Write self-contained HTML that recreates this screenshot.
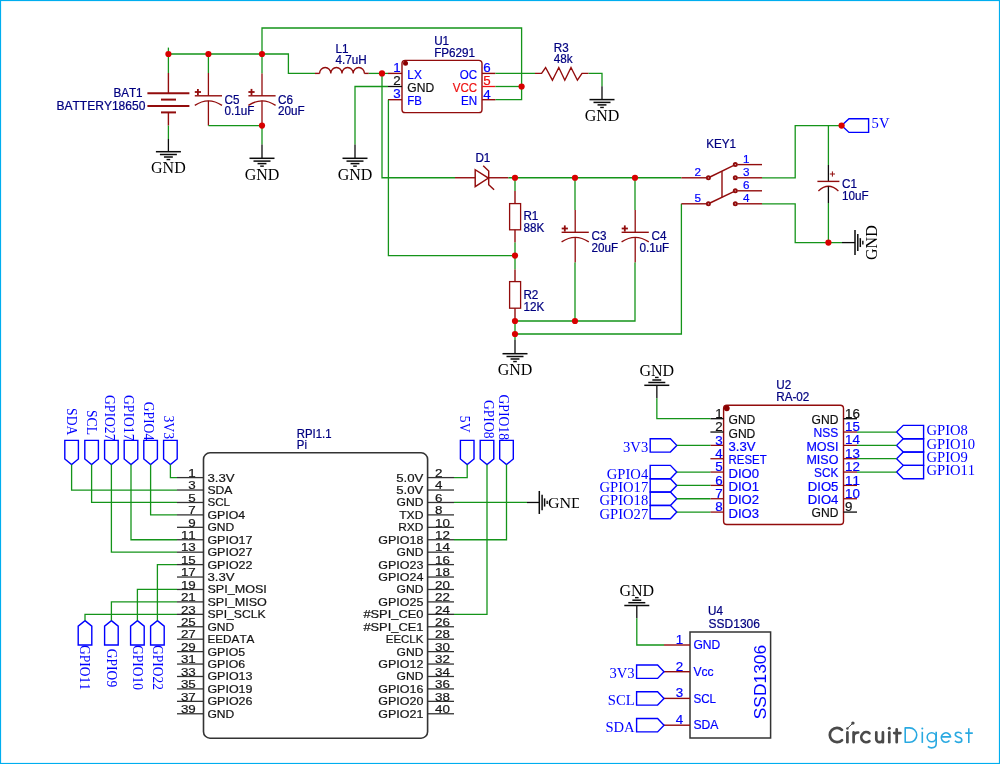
<!DOCTYPE html>
<html><head><meta charset="utf-8"><title>Circuit</title>
<style>
html,body{margin:0;padding:0;background:#fff;}
svg{display:block;will-change:transform;}
text{font-family:"Liberation Sans",sans-serif;font-kerning:none;}
.n,.n2,.n3{stroke:#000080;stroke-width:0.22px;}
.p,.pa{stroke:#0000ff;stroke-width:0.2px;}
.pk{stroke:#111;stroke-width:0.2px;}
.pr{stroke:#ee1111;stroke-width:0.2px;}
.r{stroke:#141414;stroke-width:0.2px;}
.n{font-size:11.7px;fill:#000080;}
.n2{font-size:11.4px;fill:#000080;}
.n3{font-size:12px;fill:#000080;}
.pa{font-size:11.7px;fill:#0000ff;}
.p{font-size:11.9px;fill:#0000ff;}
.pk{font-size:11.9px;fill:#111;}
.pr{font-size:11.9px;fill:#ee1111;}
.r{font-size:11.1px;fill:#141414;}
.big{font-size:17.4px;fill:#0000ff;}
.g{font-family:"Liberation Serif",serif;font-size:16px;fill:#000;}
.g2{font-family:"Liberation Serif",serif;font-size:15.2px;fill:#000;}
.f{font-family:"Liberation Serif",serif;font-size:14.6px;fill:#0000ff;}
.fv{font-family:"Liberation Serif",serif;font-size:14.6px;fill:#0000ff;}
.fv2{font-family:"Liberation Serif",serif;font-size:14.6px;fill:#0000ff;}
</style></head>
<body>
<svg width="1000" height="764" viewBox="0 0 1000 764" fill="none">
<g>
<polyline points="168.4,47.6 168.4,73" stroke="#14941a" stroke-width="1.3" />
<polyline points="168.4,73 168.4,93.2" stroke="#920c0c" stroke-width="1.4" />
<polyline points="147.4,93.2 189.4,93.2" stroke="#920c0c" stroke-width="2" />
<polyline points="161,99.6 176,99.6" stroke="#920c0c" stroke-width="2" />
<polyline points="147.4,106 189.4,106" stroke="#920c0c" stroke-width="2" />
<polyline points="161,112.4 176,112.4" stroke="#920c0c" stroke-width="2" />
<polyline points="168.4,112.4 168.4,125.6" stroke="#920c0c" stroke-width="1.4" />
<polyline points="168.4,125.6 168.4,139" stroke="#14941a" stroke-width="1.3" />
<polyline points="168.4,139 168.4,151.7" stroke="#0a0a0a" stroke-width="1.3" />
<polyline points="155.9,151.7 180.9,151.7" stroke="#0a0a0a" stroke-width="1.5" />
<polyline points="159.9,154.5 176.9,154.5" stroke="#0a0a0a" stroke-width="1.5" />
<polyline points="163.95,157 172.85,157" stroke="#0a0a0a" stroke-width="1.5" />
<polyline points="166.6,159.55 170.2,159.55" stroke="#0a0a0a" stroke-width="1.4" />
<text x="168.4" y="173.1" class="g" text-anchor="middle" >GND</text>
<text x="113.4" y="96.6" class="n" transform="translate(0 -7.73) scale(1 1.08)" >BAT1</text>
<text x="56.4" y="109.6" class="n" textLength="89" lengthAdjust="spacingAndGlyphs" transform="translate(0 -8.77) scale(1 1.08)" >BATTERY18650</text>
<polyline points="168.4,54 288.4,54 288.4,73.4 315,73.4" stroke="#14941a" stroke-width="1.3" />
<polyline points="262,54 262,28 521.6,28 521.6,99.7 495.4,99.7" stroke="#14941a" stroke-width="1.3" />
<polyline points="208.4,54 208.4,73" stroke="#14941a" stroke-width="1.3" />
<polyline points="208.4,73 208.4,95.8" stroke="#920c0c" stroke-width="1.3" />
<polyline points="194.8,95.8 222,95.8" stroke="#920c0c" stroke-width="1.4" />
<path d="M194.8,105.4 Q208.4,96.2 222,105.4" stroke="#920c0c" stroke-width="1.3" fill="none"/>
<polyline points="208.4,100.8 208.4,125.6" stroke="#920c0c" stroke-width="1.3" />
<polyline points="194.8,92 201,92" stroke="#920c0c" stroke-width="1.8" />
<polyline points="197.9,88.9 197.9,95.1" stroke="#920c0c" stroke-width="1.8" />
<polyline points="208.4,125.6 262,125.6" stroke="#14941a" stroke-width="1.3" />
<text x="224.6" y="103.6" class="n" transform="translate(0 -8.29) scale(1 1.08)" >C5</text>
<text x="224.6" y="115.4" class="n" transform="translate(0 -9.23) scale(1 1.08)" >0.1uF</text>
<polyline points="262,54 262,73.4" stroke="#14941a" stroke-width="1.3" />
<polyline points="262,73.4 262,95.8" stroke="#920c0c" stroke-width="1.3" />
<polyline points="248.4,95.8 275.6,95.8" stroke="#920c0c" stroke-width="1.4" />
<path d="M248.4,105.4 Q262,96.2 275.6,105.4" stroke="#920c0c" stroke-width="1.3" fill="none"/>
<polyline points="262,100.8 262,125.6" stroke="#920c0c" stroke-width="1.3" />
<polyline points="248.4,92 254.6,92" stroke="#920c0c" stroke-width="1.8" />
<polyline points="251.5,88.9 251.5,95.1" stroke="#920c0c" stroke-width="1.8" />
<polyline points="262,125.6 262,144.6" stroke="#14941a" stroke-width="1.3" />
<polyline points="262,144.6 262,158.3" stroke="#0a0a0a" stroke-width="1.3" />
<polyline points="249.5,158.3 274.5,158.3" stroke="#0a0a0a" stroke-width="1.5" />
<polyline points="253.5,161.1 270.5,161.1" stroke="#0a0a0a" stroke-width="1.5" />
<polyline points="257.55,163.6 266.45,163.6" stroke="#0a0a0a" stroke-width="1.5" />
<polyline points="260.2,166.15 263.8,166.15" stroke="#0a0a0a" stroke-width="1.4" />
<text x="262" y="179.7" class="g" text-anchor="middle" >GND</text>
<text x="278" y="103.6" class="n" transform="translate(0 -8.29) scale(1 1.08)" >C6</text>
<text x="278" y="115.4" class="n" transform="translate(0 -9.23) scale(1 1.08)" >20uF</text>
<polyline points="315,73.4 319.6,73.4" stroke="#920c0c" stroke-width="1.4" />
<path d="M319.6,73.4 a5.6,5.9 0 0 1 11.2,0 a5.6,5.9 0 0 1 11.2,0 a5.6,5.9 0 0 1 11.2,0 a5.6,5.9 0 0 1 11.2,0" stroke="#920c0c" stroke-width="1.3" fill="none"/>
<polyline points="364.4,73.4 368.8,73.4" stroke="#920c0c" stroke-width="1.4" />
<polyline points="368.8,73.4 388,73.4" stroke="#14941a" stroke-width="1.3" />
<text x="335.6" y="52.65" class="n" transform="translate(0 -4.21) scale(1 1.08)" >L1</text>
<text x="335.6" y="64.25" class="n" transform="translate(0 -5.14) scale(1 1.08)" >4.7uH</text>
<rect x="402" y="60.4" width="80" height="52.2" rx="3.2" stroke="#920c0c" stroke-width="1.4"/>
<circle cx="405.5" cy="63.2" r="2.5" fill="#8b0000" stroke="none"/>
<polyline points="388,73.4 402,73.4" stroke="#920c0c" stroke-width="1.4" />
<polyline points="388,86.5 402,86.5" stroke="#0a0a0a" stroke-width="1.3" />
<polyline points="388,99.7 402,99.7" stroke="#920c0c" stroke-width="1.4" />
<polyline points="482,73.4 495.4,73.4" stroke="#920c0c" stroke-width="1.4" />
<polyline points="482,86.5 495.4,86.5" stroke="#ee1111" stroke-width="1.3" />
<polyline points="482,99.7 495.4,99.7" stroke="#920c0c" stroke-width="1.4" />
<text x="400.6" y="72.1" class="p" text-anchor="end" textLength="7.44" lengthAdjust="spacingAndGlyphs" >1</text>
<text x="400.6" y="85.2" class="pk" text-anchor="end" textLength="7.44" lengthAdjust="spacingAndGlyphs" >2</text>
<text x="400.6" y="98.4" class="p" text-anchor="end" textLength="7.44" lengthAdjust="spacingAndGlyphs" >3</text>
<text x="483.2" y="72.3" class="p" textLength="7.44" lengthAdjust="spacingAndGlyphs" >6</text>
<text x="483.2" y="85.4" class="pr" textLength="7.44" lengthAdjust="spacingAndGlyphs" >5</text>
<text x="483.2" y="98.6" class="p" textLength="7.44" lengthAdjust="spacingAndGlyphs" >4</text>
<text x="407.3" y="78.6" class="p" textLength="14.53" lengthAdjust="spacingAndGlyphs" >LX</text>
<text x="407.3" y="91.7" class="pk" textLength="26.84" lengthAdjust="spacingAndGlyphs" >GND</text>
<text x="407.3" y="104.9" class="p" textLength="14.75" lengthAdjust="spacingAndGlyphs" >FB</text>
<text x="477.1" y="78.6" class="p" text-anchor="end" textLength="17.37" lengthAdjust="spacingAndGlyphs" >OC</text>
<text x="477.1" y="91.7" class="pr" text-anchor="end" textLength="24.34" lengthAdjust="spacingAndGlyphs" >VCC</text>
<text x="477.1" y="104.9" class="p" text-anchor="end" textLength="16.15" lengthAdjust="spacingAndGlyphs" >EN</text>
<text x="434.2" y="44.7" class="n" transform="translate(0 -3.58) scale(1 1.08)" >U1</text>
<text x="434.2" y="56.7" class="n" transform="translate(0 -4.54) scale(1 1.08)" >FP6291</text>
<polyline points="388,86.5 355,86.5 355,144.6" stroke="#14941a" stroke-width="1.3" />
<polyline points="355,144.6 355,158.3" stroke="#0a0a0a" stroke-width="1.3" />
<polyline points="342.5,158.3 367.5,158.3" stroke="#0a0a0a" stroke-width="1.5" />
<polyline points="346.5,161.1 363.5,161.1" stroke="#0a0a0a" stroke-width="1.5" />
<polyline points="350.55,163.6 359.45,163.6" stroke="#0a0a0a" stroke-width="1.5" />
<polyline points="353.2,166.15 356.8,166.15" stroke="#0a0a0a" stroke-width="1.4" />
<text x="355" y="179.7" class="g" text-anchor="middle" >GND</text>
<polyline points="388.4,99.7 388.4,255.6 515,255.6" stroke="#14941a" stroke-width="1.3" />
<polyline points="382,73.4 382,177.75 455,177.75" stroke="#14941a" stroke-width="1.3" />
<polyline points="495.4,73.4 535,73.4" stroke="#14941a" stroke-width="1.3" />
<polyline points="495.4,86.5 521.6,86.5" stroke="#14941a" stroke-width="1.3" />
<polyline points="535,73.4 541.6,73.4 545.6,67.5 552.4,80.2 558.8,67.5 564.8,80.2 571,67.5 577.4,80.2 582,73.4 588.6,73.4" stroke="#920c0c" stroke-width="1.4" />
<polyline points="588.6,73.4 602,73.4 602,86.3" stroke="#14941a" stroke-width="1.3" />
<polyline points="602,86.3 602,99.6" stroke="#0a0a0a" stroke-width="1.3" />
<polyline points="589.5,99.6 614.5,99.6" stroke="#0a0a0a" stroke-width="1.5" />
<polyline points="593.5,102.4 610.5,102.4" stroke="#0a0a0a" stroke-width="1.5" />
<polyline points="597.55,104.9 606.45,104.9" stroke="#0a0a0a" stroke-width="1.5" />
<polyline points="600.2,107.45 603.8,107.45" stroke="#0a0a0a" stroke-width="1.4" />
<text x="602" y="121" class="g" text-anchor="middle" >GND</text>
<text x="553.8" y="51.85" class="n" transform="translate(0 -4.15) scale(1 1.08)" >R3</text>
<text x="553.8" y="63.45" class="n" transform="translate(0 -5.08) scale(1 1.08)" >48k</text>
<polyline points="455,177.75 475.2,177.75" stroke="#920c0c" stroke-width="1.4" />
<polyline points="488.7,177.75 508.4,177.75" stroke="#920c0c" stroke-width="1.4" />
<path d="M475.2,169.7 L475.2,186.7 L488.4,178.1 Z" stroke="#920c0c" stroke-width="1.45" fill="none"/>
<path d="M483.2,165.8 L488.7,171 L488.7,184.7 L494.1,189.8" stroke="#920c0c" stroke-width="1.45" fill="none"/>
<polyline points="508.4,177.75 681.4,177.75" stroke="#14941a" stroke-width="1.3" />
<text x="475.4" y="162.45" class="n" transform="translate(0 -13) scale(1 1.08)" >D1</text>
<polyline points="515,177.6 515,191" stroke="#14941a" stroke-width="1.3" />
<polyline points="515,191 515,203.6" stroke="#920c0c" stroke-width="1.4" />
<rect x="509.6" y="203.6" width="11" height="26.2" stroke="#920c0c" stroke-width="1.3"/>
<polyline points="515,229.8 515,242.4" stroke="#920c0c" stroke-width="1.4" />
<polyline points="515,242.4 515,269.4" stroke="#14941a" stroke-width="1.3" />
<polyline points="515,269.4 515,281.6" stroke="#920c0c" stroke-width="1.4" />
<rect x="509.6" y="281.6" width="11" height="26.6" stroke="#920c0c" stroke-width="1.3"/>
<polyline points="515,308.2 515,321" stroke="#920c0c" stroke-width="1.4" />
<polyline points="515,321 515,340" stroke="#14941a" stroke-width="1.3" />
<polyline points="515,340 515,353.7" stroke="#0a0a0a" stroke-width="1.3" />
<polyline points="502.5,353.7 527.5,353.7" stroke="#0a0a0a" stroke-width="1.5" />
<polyline points="506.5,356.5 523.5,356.5" stroke="#0a0a0a" stroke-width="1.5" />
<polyline points="510.55,359 519.45,359" stroke="#0a0a0a" stroke-width="1.5" />
<polyline points="513.2,361.55 516.8,361.55" stroke="#0a0a0a" stroke-width="1.4" />
<text x="515" y="375.1" class="g" text-anchor="middle" >GND</text>
<text x="523.4" y="220.45" class="n" transform="translate(0 -17.64) scale(1 1.08)" >R1</text>
<text x="523.4" y="232.45" class="n" transform="translate(0 -18.6) scale(1 1.08)" >88K</text>
<text x="523.4" y="299.05" class="n" transform="translate(0 -23.92) scale(1 1.08)" >R2</text>
<text x="523.4" y="310.85" class="n" transform="translate(0 -24.87) scale(1 1.08)" >12K</text>
<polyline points="575,177.6 575,210" stroke="#14941a" stroke-width="1.3" />
<polyline points="575.2,210 575.2,232.3" stroke="#920c0c" stroke-width="1.3" />
<polyline points="561.6,232.3 588.8,232.3" stroke="#920c0c" stroke-width="1.4" />
<path d="M561.6,241.9 Q575.2,232.7 588.8,241.9" stroke="#920c0c" stroke-width="1.3" fill="none"/>
<polyline points="575.2,237.3 575.2,262.4" stroke="#920c0c" stroke-width="1.3" />
<polyline points="561.7,228.5 567.9,228.5" stroke="#920c0c" stroke-width="1.8" />
<polyline points="564.8,225.4 564.8,231.6" stroke="#920c0c" stroke-width="1.8" />
<polyline points="575,262.4 575,321" stroke="#14941a" stroke-width="1.3" />
<text x="591.6" y="240.25" class="n" transform="translate(0 -19.22) scale(1 1.08)" >C3</text>
<text x="591.6" y="252.05" class="n" transform="translate(0 -20.16) scale(1 1.08)" >20uF</text>
<polyline points="635,177.6 635,210" stroke="#14941a" stroke-width="1.3" />
<polyline points="635.2,210 635.2,232.3" stroke="#920c0c" stroke-width="1.3" />
<polyline points="621.6,232.3 648.8,232.3" stroke="#920c0c" stroke-width="1.4" />
<path d="M621.6,241.9 Q635.2,232.7 648.8,241.9" stroke="#920c0c" stroke-width="1.3" fill="none"/>
<polyline points="635.2,237.3 635.2,262.4" stroke="#920c0c" stroke-width="1.3" />
<polyline points="621.7,228.5 627.9,228.5" stroke="#920c0c" stroke-width="1.8" />
<polyline points="624.8,225.4 624.8,231.6" stroke="#920c0c" stroke-width="1.8" />
<polyline points="635,262.4 635,321 515,321" stroke="#14941a" stroke-width="1.3" />
<text x="651.6" y="240.25" class="n" transform="translate(0 -19.22) scale(1 1.08)" >C4</text>
<text x="639.4" y="252.05" class="n" transform="translate(0 -20.16) scale(1 1.08)" >0.1uF</text>
<polyline points="515,334 681.4,334 681.4,203.8" stroke="#14941a" stroke-width="1.3" />
<polyline points="681.4,177.8 706.4,177.8" stroke="#920c0c" stroke-width="1.4" />
<polyline points="681.4,203.8 706.4,203.8" stroke="#920c0c" stroke-width="1.4" />
<polyline points="737.3,164.6 762,164.6" stroke="#920c0c" stroke-width="1.4" />
<circle cx="735.3" cy="164.6" r="1.55" stroke="#920c0c" stroke-width="1.9" fill="#e9c9c9"/>
<polyline points="737.3,177.8 762,177.8" stroke="#920c0c" stroke-width="1.4" />
<circle cx="735.3" cy="177.8" r="1.55" stroke="#920c0c" stroke-width="1.9" fill="#e9c9c9"/>
<polyline points="737.3,190.8 762,190.8" stroke="#920c0c" stroke-width="1.4" />
<circle cx="735.3" cy="190.8" r="1.55" stroke="#920c0c" stroke-width="1.9" fill="#e9c9c9"/>
<polyline points="737.3,203.8 762,203.8" stroke="#920c0c" stroke-width="1.4" />
<circle cx="735.3" cy="203.8" r="1.55" stroke="#920c0c" stroke-width="1.9" fill="#e9c9c9"/>
<circle cx="708.4" cy="177.8" r="1.55" stroke="#920c0c" stroke-width="1.9" fill="#e9c9c9"/>
<circle cx="708.4" cy="203.8" r="1.55" stroke="#920c0c" stroke-width="1.9" fill="#e9c9c9"/>
<polyline points="710,177 733.8,165.4" stroke="#920c0c" stroke-width="1.4" />
<polyline points="710,203 733.8,191.6" stroke="#920c0c" stroke-width="1.4" />
<polyline points="722,171.2 722,197.2" stroke="#920c0c" stroke-width="1.4" />
<text x="706.2" y="147.85" class="n" transform="translate(0 -11.83) scale(1 1.08)" >KEY1</text>
<text x="742.9" y="162.7" class="pa" >1</text>
<text x="742.9" y="175.7" class="pa" >3</text>
<text x="742.9" y="188.7" class="pa" >6</text>
<text x="742.9" y="201.7" class="pa" >4</text>
<text x="694.6" y="176.4" class="pa" >2</text>
<text x="694.6" y="202.4" class="pa" >5</text>
<polyline points="762,177.8 795.2,177.8 795.2,125.6 841.6,125.6" stroke="#14941a" stroke-width="1.3" />
<polyline points="762,203.8 795.2,203.8 795.2,242.6 842,242.6" stroke="#14941a" stroke-width="1.3" />
<polyline points="842,242.6 855,242.6" stroke="#0a0a0a" stroke-width="1.3" />
<polyline points="855,230.1 855,255.1" stroke="#0a0a0a" stroke-width="1.5" />
<polyline points="857.8,234.1 857.8,251.1" stroke="#0a0a0a" stroke-width="1.5" />
<polyline points="860.3,238.15 860.3,247.05" stroke="#0a0a0a" stroke-width="1.5" />
<polyline points="862.85,240.8 862.85,244.4" stroke="#0a0a0a" stroke-width="1.4" />
<text x="877" y="242.6" class="g" text-anchor="middle" transform="rotate(-90 877 242.6)" >GND</text>
<polyline points="828.4,125.6 828.4,165" stroke="#14941a" stroke-width="1.3" />
<polyline points="828.4,165 828.4,181.4" stroke="#0a0a0a" stroke-width="1.3" />
<polyline points="817.4,181.4 839.4,181.4" stroke="#920c0c" stroke-width="1.4" />
<path d="M818.4,191 Q828.4,181.6 838.4,191" stroke="#920c0c" stroke-width="1.3" fill="none"/>
<polyline points="828.4,186.4 828.4,203" stroke="#0a0a0a" stroke-width="1.3" />
<polyline points="828.4,203 828.4,242.6" stroke="#14941a" stroke-width="1.3" />
<polyline points="829.8,174 835,174" stroke="#920c0c" stroke-width="1" />
<polyline points="832.4,171.4 832.4,176.6" stroke="#920c0c" stroke-width="1" />
<text x="842" y="188.45" class="n" transform="translate(0 -15.08) scale(1 1.08)" >C1</text>
<text x="842" y="199.85" class="n" transform="translate(0 -15.99) scale(1 1.08)" >10uF</text>
<polygon points="841.6,125.6 849,118.8 868.6,118.8 868.6,132.4 849,132.4" stroke="#0000ff" stroke-width="1.4" stroke-linejoin="miter"/>
<text x="871.6" y="128.2" class="f" >5V</text>
<circle cx="168.4" cy="54" r="3.1" fill="#d80000" stroke="none"/>
<circle cx="208.4" cy="54" r="3.1" fill="#d80000" stroke="none"/>
<circle cx="262" cy="54" r="3.1" fill="#d80000" stroke="none"/>
<circle cx="262" cy="125.6" r="3.1" fill="#d80000" stroke="none"/>
<circle cx="382" cy="73.4" r="3.1" fill="#d80000" stroke="none"/>
<circle cx="521.6" cy="86.5" r="3.1" fill="#d80000" stroke="none"/>
<circle cx="515" cy="177.75" r="3.1" fill="#d80000" stroke="none"/>
<circle cx="575" cy="177.75" r="3.1" fill="#d80000" stroke="none"/>
<circle cx="635" cy="177.75" r="3.1" fill="#d80000" stroke="none"/>
<circle cx="515" cy="255.6" r="3.1" fill="#d80000" stroke="none"/>
<circle cx="515" cy="321" r="3.1" fill="#d80000" stroke="none"/>
<circle cx="575" cy="321" r="3.1" fill="#d80000" stroke="none"/>
<circle cx="515" cy="334" r="3.1" fill="#d80000" stroke="none"/>
<circle cx="841.6" cy="125.6" r="3.1" fill="#d80000" stroke="none"/>
<circle cx="828.4" cy="242.6" r="3.1" fill="#d80000" stroke="none"/>
<rect x="203.5" y="452.8" width="224.1" height="285.4" rx="6.5" stroke="#333" stroke-width="1.6"/>
<polyline points="177,477.6 203.5,477.6" stroke="#333" stroke-width="1.3" />
<polyline points="427.6,477.6 454,477.6" stroke="#333" stroke-width="1.3" />
<text x="188.36" y="476.8" class="r" textLength="7.44" lengthAdjust="spacingAndGlyphs" >1</text>
<text x="435" y="476.8" class="r" textLength="7.44" lengthAdjust="spacingAndGlyphs" >2</text>
<text x="207.4" y="481.6" class="r" textLength="27.14" lengthAdjust="spacingAndGlyphs" >3.3V</text>
<text x="396.26" y="481.6" class="r" textLength="27.14" lengthAdjust="spacingAndGlyphs" >5.0V</text>
<polyline points="177,490.03 203.5,490.03" stroke="#333" stroke-width="1.3" />
<polyline points="427.6,490.03 454,490.03" stroke="#333" stroke-width="1.3" />
<text x="188.36" y="489.23" class="r" textLength="7.44" lengthAdjust="spacingAndGlyphs" >3</text>
<text x="435" y="489.23" class="r" textLength="7.44" lengthAdjust="spacingAndGlyphs" >4</text>
<text x="207.4" y="494.03" class="r" textLength="25.03" lengthAdjust="spacingAndGlyphs" >SDA</text>
<text x="396.26" y="494.03" class="r" textLength="27.14" lengthAdjust="spacingAndGlyphs" >5.0V</text>
<polyline points="177,502.46 203.5,502.46" stroke="#333" stroke-width="1.3" />
<polyline points="427.6,502.46 454,502.46" stroke="#333" stroke-width="1.3" />
<text x="188.36" y="501.66" class="r" textLength="7.44" lengthAdjust="spacingAndGlyphs" >5</text>
<text x="435" y="501.66" class="r" textLength="7.44" lengthAdjust="spacingAndGlyphs" >6</text>
<text x="207.4" y="506.46" class="r" textLength="22.69" lengthAdjust="spacingAndGlyphs" >SCL</text>
<text x="396.56" y="506.46" class="r" textLength="26.84" lengthAdjust="spacingAndGlyphs" >GND</text>
<polyline points="177,514.89 203.5,514.89" stroke="#333" stroke-width="1.3" />
<polyline points="427.6,514.89 454,514.89" stroke="#333" stroke-width="1.3" />
<text x="188.36" y="514.09" class="r" textLength="7.44" lengthAdjust="spacingAndGlyphs" >7</text>
<text x="435" y="514.09" class="r" textLength="7.44" lengthAdjust="spacingAndGlyphs" >8</text>
<text x="207.4" y="518.89" class="r" textLength="37.7" lengthAdjust="spacingAndGlyphs" >GPIO4</text>
<text x="399.16" y="518.89" class="r" textLength="24.24" lengthAdjust="spacingAndGlyphs" >TXD</text>
<polyline points="177,527.32 203.5,527.32" stroke="#333" stroke-width="1.3" />
<polyline points="427.6,527.32 454,527.32" stroke="#333" stroke-width="1.3" />
<text x="188.36" y="526.52" class="r" textLength="7.44" lengthAdjust="spacingAndGlyphs" >9</text>
<text x="435" y="526.52" class="r" textLength="14.88" lengthAdjust="spacingAndGlyphs" >10</text>
<text x="207.4" y="531.32" class="r" textLength="26.84" lengthAdjust="spacingAndGlyphs" >GND</text>
<text x="398.23" y="531.32" class="r" textLength="25.17" lengthAdjust="spacingAndGlyphs" >RXD</text>
<polyline points="177,539.75 203.5,539.75" stroke="#333" stroke-width="1.3" />
<polyline points="427.6,539.75 454,539.75" stroke="#333" stroke-width="1.3" />
<text x="180.92" y="538.95" class="r" textLength="14.88" lengthAdjust="spacingAndGlyphs" >11</text>
<text x="435" y="538.95" class="r" textLength="14.88" lengthAdjust="spacingAndGlyphs" >12</text>
<text x="207.4" y="543.75" class="r" textLength="45.14" lengthAdjust="spacingAndGlyphs" >GPIO17</text>
<text x="378.26" y="543.75" class="r" textLength="45.14" lengthAdjust="spacingAndGlyphs" >GPIO18</text>
<polyline points="177,552.18 203.5,552.18" stroke="#333" stroke-width="1.3" />
<polyline points="427.6,552.18 454,552.18" stroke="#333" stroke-width="1.3" />
<text x="180.92" y="551.38" class="r" textLength="14.88" lengthAdjust="spacingAndGlyphs" >13</text>
<text x="435" y="551.38" class="r" textLength="14.88" lengthAdjust="spacingAndGlyphs" >14</text>
<text x="207.4" y="556.18" class="r" textLength="45.14" lengthAdjust="spacingAndGlyphs" >GPIO27</text>
<text x="396.56" y="556.18" class="r" textLength="26.84" lengthAdjust="spacingAndGlyphs" >GND</text>
<polyline points="177,564.61 203.5,564.61" stroke="#333" stroke-width="1.3" />
<polyline points="427.6,564.61 454,564.61" stroke="#333" stroke-width="1.3" />
<text x="180.92" y="563.81" class="r" textLength="14.88" lengthAdjust="spacingAndGlyphs" >15</text>
<text x="435" y="563.81" class="r" textLength="14.88" lengthAdjust="spacingAndGlyphs" >16</text>
<text x="207.4" y="568.61" class="r" textLength="45.14" lengthAdjust="spacingAndGlyphs" >GPIO22</text>
<text x="378.26" y="568.61" class="r" textLength="45.14" lengthAdjust="spacingAndGlyphs" >GPIO23</text>
<polyline points="177,577.04 203.5,577.04" stroke="#333" stroke-width="1.3" />
<polyline points="427.6,577.04 454,577.04" stroke="#333" stroke-width="1.3" />
<text x="180.92" y="576.24" class="r" textLength="14.88" lengthAdjust="spacingAndGlyphs" >17</text>
<text x="435" y="576.24" class="r" textLength="14.88" lengthAdjust="spacingAndGlyphs" >18</text>
<text x="207.4" y="581.04" class="r" textLength="27.14" lengthAdjust="spacingAndGlyphs" >3.3V</text>
<text x="378.26" y="581.04" class="r" textLength="45.14" lengthAdjust="spacingAndGlyphs" >GPIO24</text>
<polyline points="177,589.47 203.5,589.47" stroke="#333" stroke-width="1.3" />
<polyline points="427.6,589.47 454,589.47" stroke="#333" stroke-width="1.3" />
<text x="180.92" y="588.67" class="r" textLength="14.88" lengthAdjust="spacingAndGlyphs" >19</text>
<text x="435" y="588.67" class="r" textLength="14.88" lengthAdjust="spacingAndGlyphs" >20</text>
<text x="207.4" y="593.47" class="r" textLength="59.42" lengthAdjust="spacingAndGlyphs" >SPI_MOSI</text>
<text x="396.56" y="593.47" class="r" textLength="26.84" lengthAdjust="spacingAndGlyphs" >GND</text>
<polyline points="177,601.9 203.5,601.9" stroke="#333" stroke-width="1.3" />
<polyline points="427.6,601.9 454,601.9" stroke="#333" stroke-width="1.3" />
<text x="180.92" y="601.1" class="r" textLength="14.88" lengthAdjust="spacingAndGlyphs" >21</text>
<text x="435" y="601.1" class="r" textLength="14.88" lengthAdjust="spacingAndGlyphs" >22</text>
<text x="207.4" y="605.9" class="r" textLength="59.42" lengthAdjust="spacingAndGlyphs" >SPI_MISO</text>
<text x="378.26" y="605.9" class="r" textLength="45.14" lengthAdjust="spacingAndGlyphs" >GPIO25</text>
<polyline points="177,614.33 203.5,614.33" stroke="#333" stroke-width="1.3" />
<polyline points="427.6,614.33 454,614.33" stroke="#333" stroke-width="1.3" />
<text x="180.92" y="613.53" class="r" textLength="14.88" lengthAdjust="spacingAndGlyphs" >23</text>
<text x="435" y="613.53" class="r" textLength="14.88" lengthAdjust="spacingAndGlyphs" >24</text>
<text x="207.4" y="618.33" class="r" textLength="58.22" lengthAdjust="spacingAndGlyphs" >SPI_SCLK</text>
<text x="363.4" y="618.33" class="r" textLength="60" lengthAdjust="spacingAndGlyphs" >#SPI_CE0</text>
<polyline points="177,626.76 203.5,626.76" stroke="#333" stroke-width="1.3" />
<polyline points="427.6,626.76 454,626.76" stroke="#333" stroke-width="1.3" />
<text x="180.92" y="625.96" class="r" textLength="14.88" lengthAdjust="spacingAndGlyphs" >25</text>
<text x="435" y="625.96" class="r" textLength="14.88" lengthAdjust="spacingAndGlyphs" >26</text>
<text x="207.4" y="630.76" class="r" textLength="26.84" lengthAdjust="spacingAndGlyphs" >GND</text>
<text x="363.4" y="630.76" class="r" textLength="60" lengthAdjust="spacingAndGlyphs" >#SPI_CE1</text>
<polyline points="177,639.19 203.5,639.19" stroke="#333" stroke-width="1.3" />
<polyline points="427.6,639.19 454,639.19" stroke="#333" stroke-width="1.3" />
<text x="180.92" y="638.39" class="r" textLength="14.88" lengthAdjust="spacingAndGlyphs" >27</text>
<text x="435" y="638.39" class="r" textLength="14.88" lengthAdjust="spacingAndGlyphs" >28</text>
<text x="207.4" y="643.19" class="r" textLength="47.02" lengthAdjust="spacingAndGlyphs" >EEDATA</text>
<text x="385.82" y="643.19" class="r" textLength="37.58" lengthAdjust="spacingAndGlyphs" >EECLK</text>
<polyline points="177,651.62 203.5,651.62" stroke="#333" stroke-width="1.3" />
<polyline points="427.6,651.62 454,651.62" stroke="#333" stroke-width="1.3" />
<text x="180.92" y="650.82" class="r" textLength="14.88" lengthAdjust="spacingAndGlyphs" >29</text>
<text x="435" y="650.82" class="r" textLength="14.88" lengthAdjust="spacingAndGlyphs" >30</text>
<text x="207.4" y="655.62" class="r" textLength="37.7" lengthAdjust="spacingAndGlyphs" >GPIO5</text>
<text x="396.56" y="655.62" class="r" textLength="26.84" lengthAdjust="spacingAndGlyphs" >GND</text>
<polyline points="177,664.05 203.5,664.05" stroke="#333" stroke-width="1.3" />
<polyline points="427.6,664.05 454,664.05" stroke="#333" stroke-width="1.3" />
<text x="180.92" y="663.25" class="r" textLength="14.88" lengthAdjust="spacingAndGlyphs" >31</text>
<text x="435" y="663.25" class="r" textLength="14.88" lengthAdjust="spacingAndGlyphs" >32</text>
<text x="207.4" y="668.05" class="r" textLength="37.7" lengthAdjust="spacingAndGlyphs" >GPIO6</text>
<text x="378.26" y="668.05" class="r" textLength="45.14" lengthAdjust="spacingAndGlyphs" >GPIO12</text>
<polyline points="177,676.48 203.5,676.48" stroke="#333" stroke-width="1.3" />
<polyline points="427.6,676.48 454,676.48" stroke="#333" stroke-width="1.3" />
<text x="180.92" y="675.68" class="r" textLength="14.88" lengthAdjust="spacingAndGlyphs" >33</text>
<text x="435" y="675.68" class="r" textLength="14.88" lengthAdjust="spacingAndGlyphs" >34</text>
<text x="207.4" y="680.48" class="r" textLength="45.14" lengthAdjust="spacingAndGlyphs" >GPIO13</text>
<text x="396.56" y="680.48" class="r" textLength="26.84" lengthAdjust="spacingAndGlyphs" >GND</text>
<polyline points="177,688.91 203.5,688.91" stroke="#333" stroke-width="1.3" />
<polyline points="427.6,688.91 454,688.91" stroke="#333" stroke-width="1.3" />
<text x="180.92" y="688.11" class="r" textLength="14.88" lengthAdjust="spacingAndGlyphs" >35</text>
<text x="435" y="688.11" class="r" textLength="14.88" lengthAdjust="spacingAndGlyphs" >36</text>
<text x="207.4" y="692.91" class="r" textLength="45.14" lengthAdjust="spacingAndGlyphs" >GPIO19</text>
<text x="378.26" y="692.91" class="r" textLength="45.14" lengthAdjust="spacingAndGlyphs" >GPIO16</text>
<polyline points="177,701.34 203.5,701.34" stroke="#333" stroke-width="1.3" />
<polyline points="427.6,701.34 454,701.34" stroke="#333" stroke-width="1.3" />
<text x="180.92" y="700.54" class="r" textLength="14.88" lengthAdjust="spacingAndGlyphs" >37</text>
<text x="435" y="700.54" class="r" textLength="14.88" lengthAdjust="spacingAndGlyphs" >38</text>
<text x="207.4" y="705.34" class="r" textLength="45.14" lengthAdjust="spacingAndGlyphs" >GPIO26</text>
<text x="378.26" y="705.34" class="r" textLength="45.14" lengthAdjust="spacingAndGlyphs" >GPIO20</text>
<polyline points="177,713.77 203.5,713.77" stroke="#333" stroke-width="1.3" />
<polyline points="427.6,713.77 454,713.77" stroke="#333" stroke-width="1.3" />
<text x="180.92" y="712.97" class="r" textLength="14.88" lengthAdjust="spacingAndGlyphs" >39</text>
<text x="435" y="712.97" class="r" textLength="14.88" lengthAdjust="spacingAndGlyphs" >40</text>
<text x="207.4" y="717.77" class="r" textLength="26.84" lengthAdjust="spacingAndGlyphs" >GND</text>
<text x="378.26" y="717.77" class="r" textLength="45.14" lengthAdjust="spacingAndGlyphs" >GPIO21</text>
<text x="296.8" y="438.4" class="n2" transform="translate(0 -35.07) scale(1 1.08)" >RPI1.1</text>
<text x="296.8" y="449" class="n2" transform="translate(0 -35.92) scale(1 1.08)" >Pi</text>
<polygon points="64.8,440.4 78.4,440.4 78.4,459 71.6,464.6 64.8,459" stroke="#0000ff" stroke-width="1.4" stroke-linejoin="miter"/>
<polyline points="71.6,464.6 71.6,490.03 177,490.03" stroke="#14941a" stroke-width="1.3" />
<text x="67" y="435.4" class="fv" text-anchor="end" textLength="27.3" lengthAdjust="spacingAndGlyphs" transform="rotate(90 67 435.4)" >SDA</text>
<polygon points="84.8,440.4 98.4,440.4 98.4,459 91.6,464.6 84.8,459" stroke="#0000ff" stroke-width="1.4" stroke-linejoin="miter"/>
<polyline points="91.6,464.6 91.6,502.46 177,502.46" stroke="#14941a" stroke-width="1.3" />
<text x="87" y="435" class="fv" text-anchor="end" textLength="25.03" lengthAdjust="spacingAndGlyphs" transform="rotate(90 87 435)" >SCL</text>
<polygon points="104.6,440.4 118.2,440.4 118.2,459 111.4,464.6 104.6,459" stroke="#0000ff" stroke-width="1.4" stroke-linejoin="miter"/>
<polyline points="111.4,464.6 111.4,552.18 177,552.18" stroke="#14941a" stroke-width="1.3" />
<text x="104.6" y="440.5" class="fv" text-anchor="end" textLength="45.5" lengthAdjust="spacingAndGlyphs" transform="rotate(90 104.6 440.5)" >GPIO27</text>
<polygon points="124.2,440.4 137.8,440.4 137.8,459 131,464.6 124.2,459" stroke="#0000ff" stroke-width="1.4" stroke-linejoin="miter"/>
<polyline points="131,464.6 131,539.75 177,539.75" stroke="#14941a" stroke-width="1.3" />
<text x="124.2" y="440.5" class="fv" text-anchor="end" textLength="45.5" lengthAdjust="spacingAndGlyphs" transform="rotate(90 124.2 440.5)" >GPIO17</text>
<polygon points="143.8,440.4 157.4,440.4 157.4,459 150.6,464.6 143.8,459" stroke="#0000ff" stroke-width="1.4" stroke-linejoin="miter"/>
<polyline points="150.6,464.6 150.6,514.89 177,514.89" stroke="#14941a" stroke-width="1.3" />
<text x="143.8" y="440.3" class="fv" text-anchor="end" textLength="38.67" lengthAdjust="spacingAndGlyphs" transform="rotate(90 143.8 440.3)" >GPIO4</text>
<polygon points="163.6,440.4 177.2,440.4 177.2,459 170.4,464.6 163.6,459" stroke="#0000ff" stroke-width="1.4" stroke-linejoin="miter"/>
<polyline points="170.4,464.6 170.4,477.6 177,477.6" stroke="#14941a" stroke-width="1.3" />
<text x="163.6" y="439" class="fv" text-anchor="end" textLength="23.51" lengthAdjust="spacingAndGlyphs" transform="rotate(90 163.6 439)" >3V3</text>
<polygon points="85,620.6 91.8,626.2 91.8,645 78.2,645 78.2,626.2" stroke="#0000ff" stroke-width="1.4" stroke-linejoin="miter"/>
<polyline points="85,620.6 85,614.33 177,614.33" stroke="#14941a" stroke-width="1.3" />
<text x="80.2" y="645" class="fv2" textLength="45.16" lengthAdjust="spacingAndGlyphs" transform="rotate(90 80.2 645)" >GPIO11</text>
<polygon points="111.4,620.6 118.2,626.2 118.2,645 104.6,645 104.6,626.2" stroke="#0000ff" stroke-width="1.4" stroke-linejoin="miter"/>
<polyline points="111.4,620.6 111.4,601.9 177,601.9" stroke="#14941a" stroke-width="1.3" />
<text x="106.6" y="648.8" class="fv2" textLength="38.39" lengthAdjust="spacingAndGlyphs" transform="rotate(90 106.6 648.8)" >GPIO9</text>
<polygon points="137.4,620.6 144.2,626.2 144.2,645 130.6,645 130.6,626.2" stroke="#0000ff" stroke-width="1.4" stroke-linejoin="miter"/>
<polyline points="137.4,620.6 137.4,589.47 177,589.47" stroke="#14941a" stroke-width="1.3" />
<text x="132.6" y="645" class="fv2" textLength="45.16" lengthAdjust="spacingAndGlyphs" transform="rotate(90 132.6 645)" >GPIO10</text>
<polygon points="157.4,620.6 164.2,626.2 164.2,645 150.6,645 150.6,626.2" stroke="#0000ff" stroke-width="1.4" stroke-linejoin="miter"/>
<polyline points="157.4,620.6 157.4,564.61 177,564.61" stroke="#14941a" stroke-width="1.3" />
<text x="152.6" y="645" class="fv2" textLength="45.16" lengthAdjust="spacingAndGlyphs" transform="rotate(90 152.6 645)" >GPIO22</text>
<polygon points="460.4,440.4 474,440.4 474,459 467.2,464.6 460.4,459" stroke="#0000ff" stroke-width="1.4" stroke-linejoin="miter"/>
<polyline points="467.2,464.6 467.2,477.6 454,477.6" stroke="#14941a" stroke-width="1.3" />
<text x="460.2" y="432.5" class="fv" text-anchor="end" textLength="16.68" lengthAdjust="spacingAndGlyphs" transform="rotate(90 460.2 432.5)" >5V</text>
<polygon points="480.2,440.4 493.8,440.4 493.8,459 487,464.6 480.2,459" stroke="#0000ff" stroke-width="1.4" stroke-linejoin="miter"/>
<polyline points="487,464.6 487,614.33 454,614.33" stroke="#14941a" stroke-width="1.3" />
<text x="484.4" y="438.6" class="fv" text-anchor="end" textLength="38.67" lengthAdjust="spacingAndGlyphs" transform="rotate(90 484.4 438.6)" >GPIO8</text>
<polygon points="499.7,440.4 513.3,440.4 513.3,459 506.5,464.6 499.7,459" stroke="#0000ff" stroke-width="1.4" stroke-linejoin="miter"/>
<polyline points="506.5,464.6 506.5,539.75 454,539.75" stroke="#14941a" stroke-width="1.3" />
<text x="499.1" y="440" class="fv" text-anchor="end" textLength="45.5" lengthAdjust="spacingAndGlyphs" transform="rotate(90 499.1 440)" >GPIO18</text>
<polyline points="454,502.46 527,502.46" stroke="#14941a" stroke-width="1.3" />
<polyline points="527,502.46 539.3,502.46" stroke="#0a0a0a" stroke-width="1.3" />
<polyline points="539.3,490.96 539.3,513.96" stroke="#0a0a0a" stroke-width="1.5" />
<polyline points="542.1,494.64 542.1,510.28" stroke="#0a0a0a" stroke-width="1.5" />
<polyline points="544.6,498.37 544.6,506.55" stroke="#0a0a0a" stroke-width="1.5" />
<polyline points="547.15,500.8 547.15,504.12" stroke="#0a0a0a" stroke-width="1.4" />
<clipPath id="cg"><rect x="540" y="490" width="39" height="30"/></clipPath>
<text x="547.9" y="507.6" class="g2" textLength="34.7" lengthAdjust="spacingAndGlyphs" clip-path="url(#cg)">GND</text>
<rect x="723.6" y="405.2" width="119.9" height="119.3" rx="3.2" stroke="#920c0c" stroke-width="1.4"/>
<circle cx="726.8" cy="408.3" r="2.85" fill="#8b0000" stroke="none"/>
<polyline points="710.4,418.7 723.6,418.7" stroke="#0a0a0a" stroke-width="1.3" />
<text x="722.8" y="418" class="pk" text-anchor="end" textLength="7.44" lengthAdjust="spacingAndGlyphs" >1</text>
<text x="728.5" y="424.3" class="pk" textLength="26.84" lengthAdjust="spacingAndGlyphs" >GND</text>
<polyline points="843.5,418.7 857,418.7" stroke="#0a0a0a" stroke-width="1.3" />
<text x="845" y="417.8" class="pk" textLength="14.88" lengthAdjust="spacingAndGlyphs" >16</text>
<text x="838.4" y="423.9" class="pk" text-anchor="end" textLength="26.84" lengthAdjust="spacingAndGlyphs" >GND</text>
<polyline points="710.4,432.04 723.6,432.04" stroke="#0a0a0a" stroke-width="1.3" />
<text x="722.8" y="431.34" class="pk" text-anchor="end" textLength="7.44" lengthAdjust="spacingAndGlyphs" >2</text>
<text x="728.5" y="437.64" class="pk" textLength="26.84" lengthAdjust="spacingAndGlyphs" >GND</text>
<polyline points="843.5,432.04 857,432.04" stroke="#920c0c" stroke-width="1.3" />
<text x="845" y="431.14" class="p" textLength="14.88" lengthAdjust="spacingAndGlyphs" >15</text>
<text x="838.4" y="437.24" class="p" text-anchor="end" textLength="24.76" lengthAdjust="spacingAndGlyphs" >NSS</text>
<polyline points="710.4,445.38 723.6,445.38" stroke="#920c0c" stroke-width="1.3" />
<text x="722.8" y="444.68" class="p" text-anchor="end" textLength="7.44" lengthAdjust="spacingAndGlyphs" >3</text>
<text x="728.5" y="450.98" class="p" textLength="27.14" lengthAdjust="spacingAndGlyphs" >3.3V</text>
<polyline points="843.5,445.38 857,445.38" stroke="#920c0c" stroke-width="1.3" />
<text x="845" y="444.48" class="p" textLength="14.88" lengthAdjust="spacingAndGlyphs" >14</text>
<text x="838.4" y="450.58" class="p" text-anchor="end" textLength="32" lengthAdjust="spacingAndGlyphs" >MOSI</text>
<polyline points="710.4,458.72 723.6,458.72" stroke="#920c0c" stroke-width="1.3" />
<text x="722.8" y="458.02" class="p" text-anchor="end" textLength="7.44" lengthAdjust="spacingAndGlyphs" >4</text>
<text x="728.5" y="464.32" class="p" textLength="38.13" lengthAdjust="spacingAndGlyphs" >RESET</text>
<polyline points="843.5,458.72 857,458.72" stroke="#920c0c" stroke-width="1.3" />
<text x="845" y="457.82" class="p" textLength="14.88" lengthAdjust="spacingAndGlyphs" >13</text>
<text x="838.4" y="463.92" class="p" text-anchor="end" textLength="32" lengthAdjust="spacingAndGlyphs" >MISO</text>
<polyline points="710.4,472.06 723.6,472.06" stroke="#920c0c" stroke-width="1.3" />
<text x="722.8" y="471.36" class="p" text-anchor="end" textLength="7.44" lengthAdjust="spacingAndGlyphs" >5</text>
<text x="728.5" y="477.66" class="p" textLength="30.6" lengthAdjust="spacingAndGlyphs" >DIO0</text>
<polyline points="843.5,472.06 857,472.06" stroke="#920c0c" stroke-width="1.3" />
<text x="845" y="471.16" class="p" textLength="14.88" lengthAdjust="spacingAndGlyphs" >12</text>
<text x="838.4" y="477.26" class="p" text-anchor="end" textLength="24.28" lengthAdjust="spacingAndGlyphs" >SCK</text>
<polyline points="710.4,485.4 723.6,485.4" stroke="#920c0c" stroke-width="1.3" />
<text x="722.8" y="484.7" class="p" text-anchor="end" textLength="7.44" lengthAdjust="spacingAndGlyphs" >6</text>
<text x="728.5" y="491" class="p" textLength="30.6" lengthAdjust="spacingAndGlyphs" >DIO1</text>
<polyline points="843.5,485.4 857,485.4" stroke="#920c0c" stroke-width="1.3" />
<text x="845" y="484.5" class="p" textLength="14.88" lengthAdjust="spacingAndGlyphs" >11</text>
<text x="838.4" y="490.6" class="p" text-anchor="end" textLength="30.6" lengthAdjust="spacingAndGlyphs" >DIO5</text>
<polyline points="710.4,498.74 723.6,498.74" stroke="#920c0c" stroke-width="1.3" />
<text x="722.8" y="498.04" class="p" text-anchor="end" textLength="7.44" lengthAdjust="spacingAndGlyphs" >7</text>
<text x="728.5" y="504.34" class="p" textLength="30.6" lengthAdjust="spacingAndGlyphs" >DIO2</text>
<polyline points="843.5,498.74 857,498.74" stroke="#920c0c" stroke-width="1.3" />
<text x="845" y="497.84" class="p" textLength="14.88" lengthAdjust="spacingAndGlyphs" >10</text>
<text x="838.4" y="503.94" class="p" text-anchor="end" textLength="30.6" lengthAdjust="spacingAndGlyphs" >DIO4</text>
<polyline points="710.4,512.08 723.6,512.08" stroke="#920c0c" stroke-width="1.3" />
<text x="722.8" y="511.38" class="p" text-anchor="end" textLength="7.44" lengthAdjust="spacingAndGlyphs" >8</text>
<text x="728.5" y="517.68" class="p" textLength="30.6" lengthAdjust="spacingAndGlyphs" >DIO3</text>
<polyline points="843.5,512.08 857,512.08" stroke="#0a0a0a" stroke-width="1.3" />
<text x="845" y="511.18" class="pk" textLength="7.44" lengthAdjust="spacingAndGlyphs" >9</text>
<text x="838.4" y="517.28" class="pk" text-anchor="end" textLength="26.84" lengthAdjust="spacingAndGlyphs" >GND</text>
<text x="776.2" y="389.4" class="n" transform="translate(0 -31.15) scale(1 1.08)" >U2</text>
<text x="776.2" y="401.4" class="n" transform="translate(0 -32.11) scale(1 1.08)" >RA-02</text>
<polygon points="650.2,438.68 670.4,438.68 676.8,445.38 670.4,452.08 650.2,452.08" stroke="#0000ff" stroke-width="1.4" stroke-linejoin="miter"/>
<polyline points="676.8,445.38 710.4,445.38" stroke="#14941a" stroke-width="1.3" />
<text x="648.2" y="452.03" class="f" text-anchor="end" >3V3</text>
<polygon points="650.2,465.36 670.4,465.36 676.8,472.06 670.4,478.76 650.2,478.76" stroke="#0000ff" stroke-width="1.4" stroke-linejoin="miter"/>
<polyline points="676.8,472.06 710.4,472.06" stroke="#14941a" stroke-width="1.3" />
<text x="648.2" y="478.71" class="f" text-anchor="end" >GPIO4</text>
<polygon points="650.2,478.7 670.4,478.7 676.8,485.4 670.4,492.1 650.2,492.1" stroke="#0000ff" stroke-width="1.4" stroke-linejoin="miter"/>
<polyline points="676.8,485.4 710.4,485.4" stroke="#14941a" stroke-width="1.3" />
<text x="648.2" y="492.05" class="f" text-anchor="end" >GPIO17</text>
<polygon points="650.2,492.04 670.4,492.04 676.8,498.74 670.4,505.44 650.2,505.44" stroke="#0000ff" stroke-width="1.4" stroke-linejoin="miter"/>
<polyline points="676.8,498.74 710.4,498.74" stroke="#14941a" stroke-width="1.3" />
<text x="648.2" y="505.39" class="f" text-anchor="end" >GPIO18</text>
<polygon points="650.2,505.38 670.4,505.38 676.8,512.08 670.4,518.78 650.2,518.78" stroke="#0000ff" stroke-width="1.4" stroke-linejoin="miter"/>
<polyline points="676.8,512.08 710.4,512.08" stroke="#14941a" stroke-width="1.3" />
<text x="648.2" y="518.73" class="f" text-anchor="end" >GPIO27</text>
<polygon points="896.6,432.04 903.3,425.34 923.6,425.34 923.6,438.74 903.3,438.74" stroke="#0000ff" stroke-width="1.4" stroke-linejoin="miter"/>
<polyline points="857,432.04 896.6,432.04" stroke="#14941a" stroke-width="1.3" />
<text x="926.5" y="435.44" class="f" >GPIO8</text>
<polygon points="896.6,445.38 903.3,438.68 923.6,438.68 923.6,452.08 903.3,452.08" stroke="#0000ff" stroke-width="1.4" stroke-linejoin="miter"/>
<polyline points="857,445.38 896.6,445.38" stroke="#14941a" stroke-width="1.3" />
<text x="926.5" y="448.78" class="f" >GPIO10</text>
<polygon points="896.6,458.72 903.3,452.02 923.6,452.02 923.6,465.42 903.3,465.42" stroke="#0000ff" stroke-width="1.4" stroke-linejoin="miter"/>
<polyline points="857,458.72 896.6,458.72" stroke="#14941a" stroke-width="1.3" />
<text x="926.5" y="462.12" class="f" >GPIO9</text>
<polygon points="896.6,472.06 903.3,465.36 923.6,465.36 923.6,478.76 903.3,478.76" stroke="#0000ff" stroke-width="1.4" stroke-linejoin="miter"/>
<polyline points="857,472.06 896.6,472.06" stroke="#14941a" stroke-width="1.3" />
<text x="926.5" y="475.46" class="f" >GPIO11</text>
<polyline points="656.85,385.3 656.85,398.2" stroke="#0a0a0a" stroke-width="1.3" />
<polyline points="656.85,398.2 656.85,418.7 710.4,418.7" stroke="#14941a" stroke-width="1.3" />
<polyline points="644.3,385.3 669.3,385.3" stroke="#0a0a0a" stroke-width="1.5" />
<polyline points="648.3,382.5 665.3,382.5" stroke="#0a0a0a" stroke-width="1.5" />
<polyline points="652.35,380 661.25,380" stroke="#0a0a0a" stroke-width="1.5" />
<polyline points="655,377.45 658.6,377.45" stroke="#0a0a0a" stroke-width="1.4" />
<text x="656.8" y="375.7" class="g" text-anchor="middle" >GND</text>
<rect x="690" y="632" width="80.6" height="106" stroke="#333" stroke-width="1.5"/>
<polyline points="664,645 690,645" stroke="#920c0c" stroke-width="1.4" />
<text x="679.6" y="644" class="p" text-anchor="middle" textLength="7.44" lengthAdjust="spacingAndGlyphs" >1</text>
<text x="693.4" y="649.2" class="p" textLength="26.84" lengthAdjust="spacingAndGlyphs" >GND</text>
<polyline points="664,671.7 690,671.7" stroke="#920c0c" stroke-width="1.4" />
<text x="679.6" y="670.7" class="p" text-anchor="middle" textLength="7.44" lengthAdjust="spacingAndGlyphs" >2</text>
<text x="693.4" y="675.9" class="p" textLength="20.19" lengthAdjust="spacingAndGlyphs" >Vcc</text>
<polyline points="664,698.4 690,698.4" stroke="#920c0c" stroke-width="1.4" />
<text x="679.6" y="697.4" class="p" text-anchor="middle" textLength="7.44" lengthAdjust="spacingAndGlyphs" >3</text>
<text x="693.4" y="702.6" class="p" textLength="22.69" lengthAdjust="spacingAndGlyphs" >SCL</text>
<polyline points="664,725.2 690,725.2" stroke="#920c0c" stroke-width="1.4" />
<text x="679.6" y="724.2" class="p" text-anchor="middle" textLength="7.44" lengthAdjust="spacingAndGlyphs" >4</text>
<text x="693.4" y="729.4" class="p" textLength="25.03" lengthAdjust="spacingAndGlyphs" >SDA</text>
<polygon points="636.6,665 657.6,665 664,671.7 657.6,678.4 636.6,678.4" stroke="#0000ff" stroke-width="1.4" stroke-linejoin="miter"/>
<text x="634.6" y="678" class="f" text-anchor="end" >3V3</text>
<polygon points="636.6,691.7 657.6,691.7 664,698.4 657.6,705.1 636.6,705.1" stroke="#0000ff" stroke-width="1.4" stroke-linejoin="miter"/>
<text x="634.6" y="704.7" class="f" text-anchor="end" >SCL</text>
<polygon points="636.6,718.5 657.6,718.5 664,725.2 657.6,731.9 636.6,731.9" stroke="#0000ff" stroke-width="1.4" stroke-linejoin="miter"/>
<text x="634.6" y="731.5" class="f" text-anchor="end" >SDA</text>
<polyline points="636.8,605.5 636.8,618.3" stroke="#0a0a0a" stroke-width="1.3" />
<polyline points="636.8,618.3 636.8,645 664,645" stroke="#14941a" stroke-width="1.3" />
<polyline points="624.3,605.5 649.3,605.5" stroke="#0a0a0a" stroke-width="1.5" />
<polyline points="628.3,602.7 645.3,602.7" stroke="#0a0a0a" stroke-width="1.5" />
<polyline points="632.35,600.2 641.25,600.2" stroke="#0a0a0a" stroke-width="1.5" />
<polyline points="635,597.65 638.6,597.65" stroke="#0a0a0a" stroke-width="1.4" />
<text x="636.8" y="595.9" class="g" text-anchor="middle" >GND</text>
<text x="708" y="615.5" class="n" transform="translate(0 -49.24) scale(1 1.08)" >U4</text>
<text x="708.6" y="627.9" class="n3" transform="translate(0 -50.23) scale(1 1.08)" >SSD1306</text>
<text x="766.3" y="719.3" class="big" transform="rotate(-90 766.3 719.3)" >SSD1306</text>
<g stroke="#4a4a4a" stroke-width="2.7" stroke-linecap="round" stroke-linejoin="round" fill="none">
<path d="M842.0,729.9 A7.2,7.15 0 1 0 842.0,740.2"/>
<path d="M847.4,732.4 V742.2"/>
<path d="M853.6,732.4 V742.2 M853.6,736.6 Q853.9,732.5 858.2,732.5"/>
<path d="M869.4,733.3 A5,5 0 1 0 869.4,741.1"/>
<path d="M876.3,732.4 V738.9 A3.3,3.3 0 0 0 882.9,738.9 M882.9,732.4 V742.2"/>
<path d="M889.3,732.4 V742.2"/>
<path d="M896.7,729.4 V742.2 M894.2,733.1 H900.4"/>
</g>
<circle cx="889.3" cy="728.2" r="1.5" fill="#4a4a4a" stroke="none"/>
<path d="M847.4,728.4 L852.9,723.2" stroke="#4a4a4a" stroke-width="1.0"/>
<circle cx="847.4" cy="728.5" r="1.2" fill="#4a4a4a" stroke="none"/>
<circle cx="852.9" cy="723.1" r="1.7" fill="#4a4a4a" stroke="none"/>
<g stroke="#29a9e1" stroke-width="1.6" stroke-linecap="butt" stroke-linejoin="round" fill="none">
<path d="M905.2,727.9 V742.2 H909.6 A7.15,7.15 0 0 0 909.6,727.9 Z"/>
<path d="M922.3,731.8 V742.9"/>
<circle cx="931.7" cy="737.3" r="4.5"/>
<path d="M936.2,731.8 V743.6 Q936.2,747.9 931.6,747.9 Q929.4,747.9 927.9,746.4"/>
<path d="M941.2,736.9 H950.6 A4.7,4.7 0 1 0 949.5,740.6"/>
<path d="M961.6,733.7 Q960.2,732.2 958.2,732.2 Q955.3,732.2 955.3,734.6 Q955.3,736.5 958.5,737.2 Q961.8,737.9 961.8,740 Q961.8,742.4 958.6,742.4 Q956.3,742.4 954.9,740.8"/>
<path d="M968.8,728.2 V742.9 M965.3,733.1 H972.8"/>
</g>
<circle cx="922.3" cy="728.5" r="1.0" fill="#29a9e1" stroke="none"/>
</g>
<rect x="0.5" y="0.5" width="999" height="763" stroke="#00aeef" stroke-width="1.2"/>
</svg>
</body></html>
